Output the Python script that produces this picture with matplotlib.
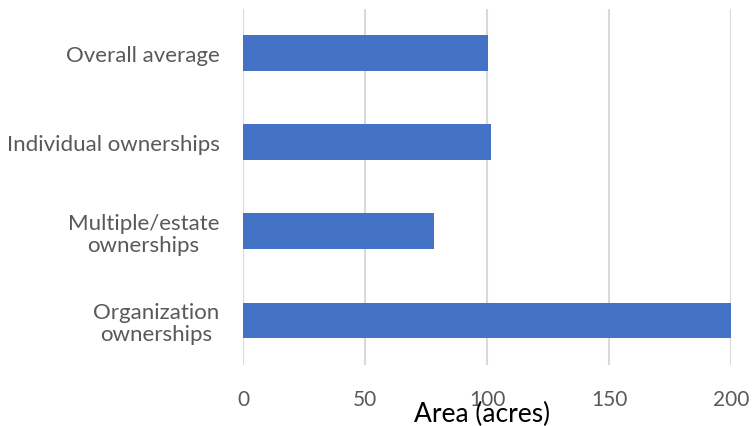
import matplotlib.pyplot as plt

# Average area per ownership type
categories = ["Overall average", "Individual ownerships",
              "Multiple/estate\nownerships", "Organization\nownerships"]
area_acres = [100.3, 101.6, 78.4, 201.1]
x_ticks = [0, 50, 100, 150, 200]

plt.rcParams['font.family'] = ['Lato', 'DejaVu Sans']

fig = plt.figure(figsize=(7.54, 4.27), dpi=100)
ax = fig.add_axes([243 / 754, 1 - 366 / 427, 488 / 754, 356.5 / 427])

y = list(range(len(categories)))
ax.barh(y, area_acres, height=0.4, color='#4472C4', zorder=3)

ax.set_xlim(0, 200)
ax.set_ylim(len(categories) - 0.5, -0.5)
ax.set_xticks(x_ticks)
ax.set_yticks(y)
ax.set_yticklabels(categories, multialignment='center', linespacing=1.1)

ax.grid(axis='x', color='#D9D9D9', linewidth=1.5, zorder=0)
ax.grid(axis='y', visible=False)
for s in ax.spines.values():
    s.set_visible(False)

ax.tick_params(axis='x', length=0, pad=17, labelsize=15, labelcolor='#595959')
ax.tick_params(axis='y', length=0, pad=17, labelsize=16, labelcolor='#595959')

ax.set_xlabel('Area (acres)', fontsize=19, color='#000000')
ax.xaxis.label.set_va('baseline')
ax.xaxis.set_label_coords((482 - 243) / 488, (366 - 422) / 356.5)

fig.savefig('out.png', dpi=100)
